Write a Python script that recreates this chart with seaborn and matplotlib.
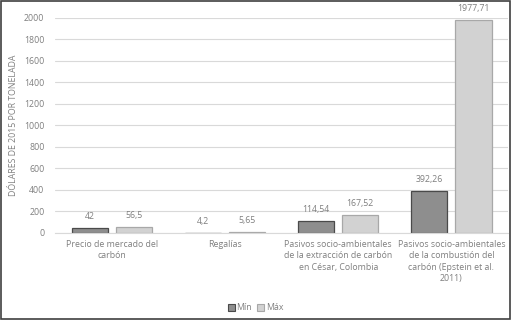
import matplotlib
matplotlib.use("Agg")
import matplotlib.pyplot as plt
import seaborn as sns
import pandas as pd
from matplotlib.patches import Rectangle

categories = [
    "Precio de mercado del\ncarbón",
    "Regalías",
    "Pasivos socio-ambientales\nde la extracción de carbón\nen César, Colombia",
    "Pasivos socio-ambientales\nde la combustión del\ncarbón (Epstein et al.\n2011)",
]
min_values = [42, 4.2, 114.54, 392.26]
max_values = [56.5, 5.65, 167.52, 1977.71]
min_labels = ["42", "4,2", "114,54", "392,26"]
max_labels = ["56,5", "5,65", "167,52", "1977,71"]
series = ["Mín", "Máx"]
y_ticks = [0, 200, 400, 600, 800, 1000, 1200, 1400, 1600, 1800, 2000]

df = pd.DataFrame({
    "cat": categories * 2,
    "serie": [series[0]] * 4 + [series[1]] * 4,
    "valor": min_values + max_values,
})

sns.set_theme(style="white")
plt.rcParams["font.family"] = ["Open Sans", "DejaVu Sans"]
text_color = "#7f7f7f"

fig = plt.figure(figsize=(5.11, 3.20), dpi=100)
ax = fig.add_axes([0.1086, 0.272, 0.8854, 0.672])

palette = {"Mín": "#8e8e8e", "Máx": "#d2d2d2"}
edges = {"Mín": "#4a4a4a", "Máx": "#a8a8a8"}
sns.barplot(data=df, x="cat", y="valor", hue="serie", palette=palette,
            width=0.78, gap=0.18, ax=ax, legend=False, linewidth=0.9,
            saturation=1)

for container, name, labels in zip(ax.containers, series, [min_labels, max_labels]):
    for bar in container:
        bar.set_edgecolor(edges[name])
    ax.bar_label(container, labels=labels, padding=5, fontsize=6.3,
                 color=text_color, clip_on=False)

ax.set_ylim(0, 2000)
ax.set_yticks(y_ticks)
ax.set_yticklabels([str(t) for t in y_ticks], fontsize=6.3, color=text_color)
ax.tick_params(axis="y", length=0, pad=8)
ax.tick_params(axis="x", length=0, pad=5)
for lbl in ax.get_xticklabels():
    lbl.set_fontsize(6.3)
    lbl.set_color(text_color)
    lbl.set_linespacing(1.35)
    lbl.set_horizontalalignment("center")
    lbl.set_verticalalignment("top")
ax.set_xlabel("")
ax.set_ylabel("DÓLARES DE 2015 POR TONELADA", fontsize=6.3, color=text_color,
              labelpad=3)
ax.yaxis.set_label_coords(-0.082, 0.5)
ax.grid(axis="y", color="#d9d9d9", linewidth=0.8)
ax.set_axisbelow(True)
for side in ["top", "right", "left"]:
    ax.spines[side].set_visible(False)
ax.spines["bottom"].set_color("#d9d9d9")
ax.spines["bottom"].set_linewidth(0.8)
ax.set_xlim(-0.5, 3.5)

handles = [Rectangle((0, 0), 1, 1, facecolor=palette[s], edgecolor=edges[s], linewidth=0.8)
           for s in series]
fig.legend(handles, series, loc="center", bbox_to_anchor=(0.5, 0.038), ncol=2,
           frameon=False, fontsize=6.3, labelcolor=text_color,
           handlelength=0.8, handleheight=0.8, handletextpad=0.2,
           columnspacing=0.6)

fig.patches.append(Rectangle((0.002, 0.003), 0.996, 0.994, transform=fig.transFigure,
                             fill=False, edgecolor="#404040", linewidth=1.2))

fig.savefig("out.png", dpi=100)
